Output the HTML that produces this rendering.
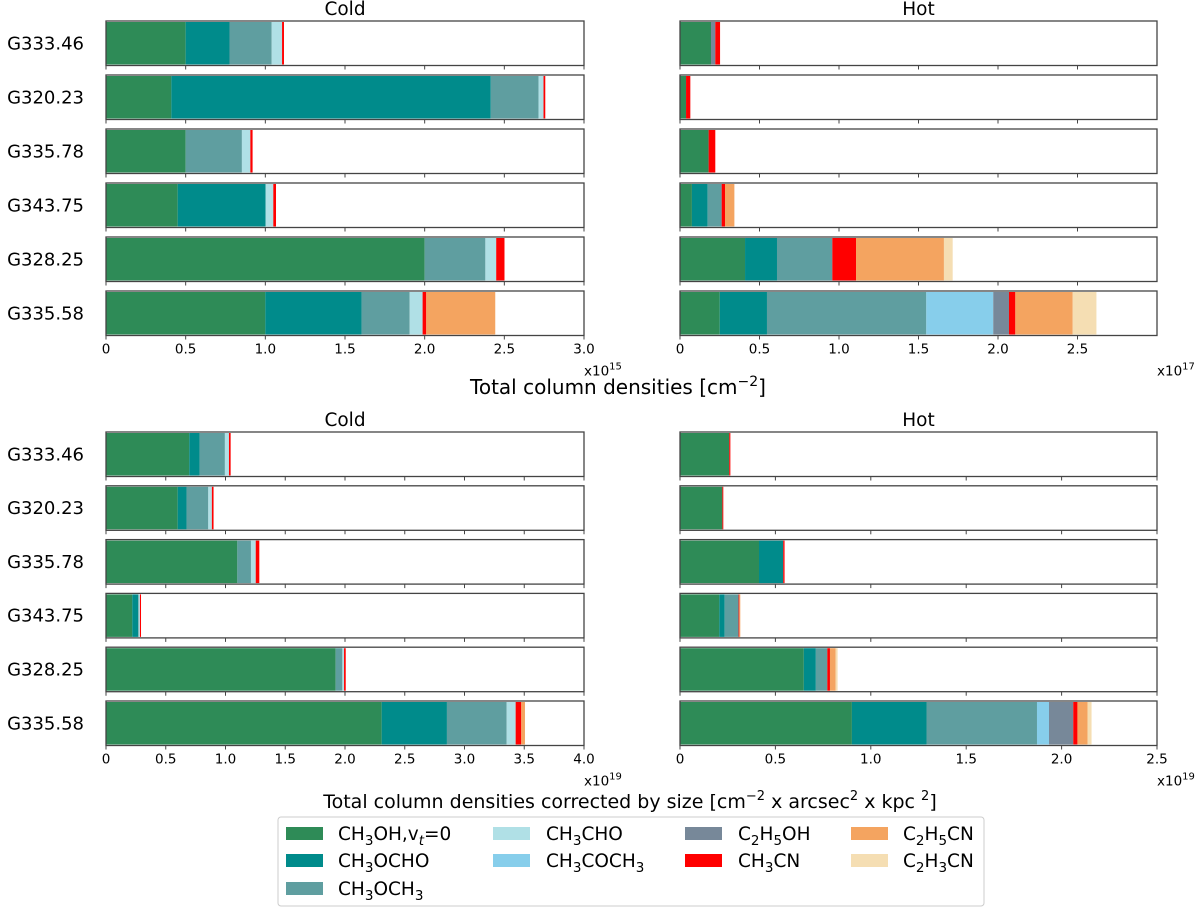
<!DOCTYPE html>
<html><head><meta charset="utf-8">
<style>
body{margin:0;background:#fff;}
svg{display:block;font-family:"DejaVu Sans","Liberation Sans",sans-serif;}
</style></head>
<body>
<svg id="chart" width="1200" height="908" viewBox="0 0 1200 908" xmlns="http://www.w3.org/2000/svg"></svg>
<script>
const sources = ["G333.46","G320.23","G335.78","G343.75","G328.25","G335.58"];
const species = ["CH3OH","CH3OCHO","CH3OCH3","CH3CHO","CH3COCH3","C2H5OH","CH3CN","C2H5CN","C2H3CN"];
const colors = ["#2E8B57","#008B8B","#5F9EA0","#B0E0E6","#87CEEB","#778899","#FF0000","#F4A460","#F5DEB3"];
// top-left: cold, x1e15
const coldTop = [
 [0.50,0.275,0.265,0.065,0,0,0.012,0,0],
 [0.41,2.005,0.30,0.031,0,0,0.011,0,0],
 [0.50,0,0.353,0.053,0,0,0.014,0,0],
 [0.45,0.552,0,0.048,0,0,0.017,0,0],
 [2.0,0,0.381,0.068,0,0,0.052,0,0],
 [1.0,0.604,0.302,0.081,0,0,0.023,0.433,0]
];
// top-right: hot, x1e17
const hotTop = [
 [0.195,0,0,0,0,0.027,0.03,0,0],
 [0.038,0,0,0,0,0,0.027,0,0],
 [0.18,0,0,0,0,0,0.042,0,0],
 [0.075,0.099,0.088,0,0,0,0.021,0.059,0],
 [0.409,0.201,0.348,0,0,0,0.149,0.553,0.055],
 [0.25,0.297,1.002,0,0.421,0.099,0.04,0.361,0.149]
];
// bottom-left: cold corrected, x1e19
const coldBot = [
 [0.697,0.086,0.212,0.034,0,0,0.014,0,0],
 [0.6,0.074,0.182,0.03,0,0,0.014,0,0],
 [1.099,0,0.114,0.04,0,0,0.03,0,0],
 [0.22,0.05,0.005,0.009,0,0,0.009,0,0],
 [1.922,0,0.056,0.014,0,0,0.014,0,0],
 [2.307,0.546,0.5,0.075,0,0,0.047,0.031,0]
];
// bottom-right: hot corrected, x1e19
const hotBot = [
 [0.258,0,0,0,0,0,0.006,0,0],
 [0.222,0,0,0,0,0,0.005,0,0],
 [0.414,0.127,0,0,0,0,0.007,0,0],
 [0.206,0.028,0.073,0,0,0,0.004,0.005,0],
 [0.649,0.063,0.06,0,0,0,0.014,0.03,0.01],
 [0.901,0.391,0.579,0,0.063,0.127,0.022,0.053,0.021]
];
const ticksTL = ["0","0.5","1.0","1.5","2.0","2.5","3.0"];
const ticksTR = ["0","0.5","1.0","1.5","2.0","2.5"];
const ticksBL = ["0","0.5","1.0","1.5","2.0","2.5","3.0","3.5","4.0"];
const ticksBR = ["0","0.5","1.0","1.5","2.0","2.5"];

const NS="http://www.w3.org/2000/svg";
const svg=document.getElementById('chart');
function mk(tag,attrs,parent){const e=document.createElementNS(NS,tag);for(const k in attrs)e.setAttribute(k,attrs[k]);(parent||svg).appendChild(e);return e;}

function panel(name,data,ticks,xmax,x0,x1,yTop,step,h,title,exp,showLabels){
  const g=mk('g',{});
  
  
  const sx=v=>x0+(v/xmax)*(x1-x0);
  const t=mk('text',{x:(x0+x1)/2,y:yTop-6,'text-anchor':'middle','font-size':18.5,fill:'#000'},g);
  t.textContent=title;
  
  
  data.forEach((row,i)=>{
    const y=yTop+i*step;
    let acc=0;
    row.forEach((v,j)=>{
      if(v<=0)return;
      const r=mk('rect',{x:sx(acc),y:y+1,width:sx(acc+v)-sx(acc),height:h-2,fill:colors[j]},g);
      
      
      acc+=v;
    });
    const b=mk('rect',{x:x0,y:y,width:x1-x0,height:h,fill:'none',stroke:'#444','stroke-width':1.3},g);
    
    
    ticks.forEach(tk=>{
      const tx=sx(parseFloat(tk));
      const l=mk('line',{x1:tx,x2:tx,y1:y+h,y2:y+h+4,stroke:'#444','stroke-width':1},g);
      
      
    });
    if(showLabels){
      const lb=mk('text',{x:84,y:y+h/2+6,'text-anchor':'end','font-size':18,fill:'#000'},g);
      lb.textContent=sources[i];
      
      
    }
  });
  const yb=yTop+5*step+h;
  ticks.forEach(tk=>{
    const tl=mk('text',{x:sx(parseFloat(tk)),y:yb+18,'text-anchor':'middle','font-size':13.5,fill:'#000'},g);
    tl.textContent=tk;
    
    
  });
  const ex=mk('text',{x:x1,y:yb+40,'font-size':13.5,fill:'#000'},g);
  ex.innerHTML='x10<tspan dy="-6" font-size="10">'+exp+'</tspan>';
  
  
}
panel('panel-cold-top',coldTop,ticksTL,3.0,106,584,21,54,44.5,'Cold','15',true);
panel('panel-hot-top',hotTop,ticksTR,3.0,680,1157,21,54,44.5,'Hot','17',false);
panel('panel-cold-bottom',coldBot,ticksBL,4.0,106,584,432,53.8,44.5,'Cold','19',true);
panel('panel-hot-bottom',hotBot,ticksBR,2.5,680,1157,432,53.8,44.5,'Hot','19',false);
</script>
<svg style="position:absolute;left:0;top:0" width="1200" height="908" xmlns="http://www.w3.org/2000/svg" font-family="DejaVu Sans, Liberation Sans, sans-serif">
  <text x="618" y="394" text-anchor="middle" font-size="20">Total column densities [cm<tspan dy="-8" font-size="14">−2</tspan><tspan dy="8">]</tspan></text>
  <text x="630" y="808" text-anchor="middle" font-size="19">Total column densities corrected by size [cm<tspan dy="-8" font-size="13">−2</tspan><tspan dy="8"> x arcsec</tspan><tspan dy="-8" font-size="13">2</tspan><tspan dy="8"> x kpc </tspan><tspan dy="-8" font-size="13">2</tspan><tspan dy="8">]</tspan></text>
  <g font-size="18.5">
    <rect x="278" y="817" width="706" height="89" rx="3" fill="#fff" stroke="#ccc"/>
    <g><rect x="286" y="827" width="37" height="13" fill="#2E8B57"/><text x="338" y="840">CH<tspan dy="5" font-size="13.5">3</tspan><tspan dy="-5">OH,v</tspan><tspan dy="5" font-size="13.5" font-style="italic">t</tspan><tspan dy="-5">=0</tspan></text></g>
    <g><rect x="286" y="854" width="37" height="13" fill="#008B8B"/><text x="338" y="867">CH<tspan dy="5" font-size="13.5">3</tspan><tspan dy="-5">OCHO</tspan></text></g>
    <g><rect x="286" y="882" width="37" height="13" fill="#5F9EA0"/><text x="338" y="895">CH<tspan dy="5" font-size="13.5">3</tspan><tspan dy="-5">OCH</tspan><tspan dy="5" font-size="13.5">3</tspan></text></g>
    <g><rect x="493" y="827" width="37" height="13" fill="#B0E0E6"/><text x="546" y="840">CH<tspan dy="5" font-size="13.5">3</tspan><tspan dy="-5">CHO</tspan></text></g>
    <g><rect x="493" y="854" width="37" height="13" fill="#87CEEB"/><text x="546" y="867">CH<tspan dy="5" font-size="13.5">3</tspan><tspan dy="-5">COCH</tspan><tspan dy="5" font-size="13.5">3</tspan></text></g>
    <g><rect x="685" y="827" width="37" height="13" fill="#778899"/><text x="738" y="840">C<tspan dy="5" font-size="13.5">2</tspan><tspan dy="-5">H</tspan><tspan dy="5" font-size="13.5">5</tspan><tspan dy="-5">OH</tspan></text></g>
    <g><rect x="685" y="854" width="37" height="13" fill="#FF0000"/><text x="738" y="867">CH<tspan dy="5" font-size="13.5">3</tspan><tspan dy="-5">CN</tspan></text></g>
    <g><rect x="851" y="827" width="37" height="13" fill="#F4A460"/><text x="903" y="840">C<tspan dy="5" font-size="13.5">2</tspan><tspan dy="-5">H</tspan><tspan dy="5" font-size="13.5">5</tspan><tspan dy="-5">CN</tspan></text></g>
    <g><rect x="851" y="854" width="37" height="13" fill="#F5DEB3"/><text x="903" y="867">C<tspan dy="5" font-size="13.5">2</tspan><tspan dy="-5">H</tspan><tspan dy="5" font-size="13.5">3</tspan><tspan dy="-5">CN</tspan></text></g>
  </g>
</svg>
</body></html>
